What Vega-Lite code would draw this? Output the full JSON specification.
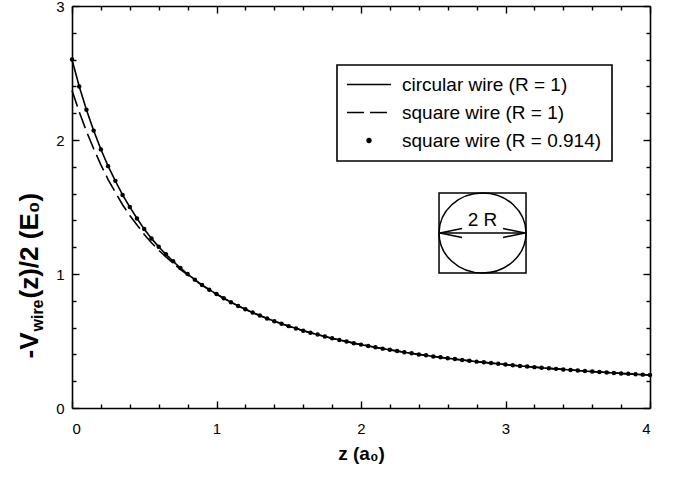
{
  "$schema": "https://vega.github.io/schema/vega-lite/v6.json",
  "width": 578,
  "height": 402,
  "autosize": {"type": "none"},
  "padding": {"left": 72, "top": 6, "right": 23, "bottom": 73},
  "background": "white",
  "config": {
    "view": {"stroke": null},
    "font": "Liberation Sans",
    "axis": {
      "grid": false,
      "domainColor": "black",
      "domainWidth": 1.6,
      "tickColor": "black",
      "tickWidth": 1.4,
      "labelColor": "black",
      "labelFont": "Liberation Sans",
      "labelFontSize": 15,
      "titleColor": "black",
      "titleFont": "Liberation Sans"
    }
  },
  "datasets": {
    "curves": [
      {"z": 0.00, "c": 2.600, "s": 2.370, "d": 2.600},
      {"z": 0.05, "c": 2.400, "s": 2.210, "d": 2.400},
      {"z": 0.10, "c": 2.225, "s": 2.065, "d": 2.225},
      {"z": 0.15, "c": 2.070, "s": 1.935, "d": 2.070},
      {"z": 0.20, "c": 1.930, "s": 1.815, "d": 1.930},
      {"z": 0.25, "c": 1.805, "s": 1.705, "d": 1.805},
      {"z": 0.30, "c": 1.695, "s": 1.610, "d": 1.695},
      {"z": 0.35, "c": 1.590, "s": 1.517, "d": 1.590},
      {"z": 0.40, "c": 1.500, "s": 1.437, "d": 1.500},
      {"z": 0.45, "c": 1.415, "s": 1.365, "d": 1.415},
      {"z": 0.50, "c": 1.335, "s": 1.295, "d": 1.335},
      {"z": 0.55, "c": 1.265, "s": 1.233, "d": 1.265},
      {"z": 0.60, "c": 1.203, "s": 1.178, "d": 1.203},
      {"z": 0.65, "c": 1.147, "s": 1.128, "d": 1.147},
      {"z": 0.70, "c": 1.095, "s": 1.081, "d": 1.095},
      {"z": 0.75, "c": 1.045, "s": 1.035, "d": 1.045},
      {"z": 0.80, "c": 1.000, "s": 0.993, "d": 1.000},
      {"z": 0.85, "c": 0.958, "s": 0.954, "d": 0.958},
      {"z": 0.90, "c": 0.918, "s": 0.916, "d": 0.918},
      {"z": 0.95, "c": 0.883, "s": 0.882, "d": 0.883},
      {"z": 1.00, "c": 0.850, "s": 0.850, "d": 0.850},
      {"z": 1.05, "c": 0.819, "s": 0.819, "d": 0.819},
      {"z": 1.10, "c": 0.790, "s": 0.790, "d": 0.790},
      {"z": 1.15, "c": 0.762, "s": 0.762, "d": 0.762},
      {"z": 1.20, "c": 0.737, "s": 0.737, "d": 0.737},
      {"z": 1.25, "c": 0.712, "s": 0.712, "d": 0.712},
      {"z": 1.30, "c": 0.690, "s": 0.690, "d": 0.690},
      {"z": 1.35, "c": 0.668, "s": 0.668, "d": 0.668},
      {"z": 1.40, "c": 0.648, "s": 0.648, "d": 0.648},
      {"z": 1.45, "c": 0.629, "s": 0.629, "d": 0.629},
      {"z": 1.50, "c": 0.611, "s": 0.611, "d": 0.611},
      {"z": 1.55, "c": 0.594, "s": 0.594, "d": 0.594},
      {"z": 1.60, "c": 0.577, "s": 0.577, "d": 0.577},
      {"z": 1.65, "c": 0.562, "s": 0.562, "d": 0.562},
      {"z": 1.70, "c": 0.548, "s": 0.548, "d": 0.548},
      {"z": 1.75, "c": 0.534, "s": 0.534, "d": 0.534},
      {"z": 1.80, "c": 0.520, "s": 0.520, "d": 0.520},
      {"z": 1.85, "c": 0.508, "s": 0.508, "d": 0.508},
      {"z": 1.90, "c": 0.496, "s": 0.496, "d": 0.496},
      {"z": 1.95, "c": 0.484, "s": 0.484, "d": 0.484},
      {"z": 2.00, "c": 0.473, "s": 0.473, "d": 0.473},
      {"z": 2.05, "c": 0.463, "s": 0.463, "d": 0.463},
      {"z": 2.10, "c": 0.453, "s": 0.453, "d": 0.453},
      {"z": 2.15, "c": 0.443, "s": 0.443, "d": 0.443},
      {"z": 2.20, "c": 0.434, "s": 0.434, "d": 0.434},
      {"z": 2.25, "c": 0.425, "s": 0.425, "d": 0.425},
      {"z": 2.30, "c": 0.416, "s": 0.416, "d": 0.416},
      {"z": 2.35, "c": 0.408, "s": 0.408, "d": 0.408},
      {"z": 2.40, "c": 0.400, "s": 0.400, "d": 0.400},
      {"z": 2.45, "c": 0.393, "s": 0.393, "d": 0.393},
      {"z": 2.50, "c": 0.385, "s": 0.385, "d": 0.385},
      {"z": 2.55, "c": 0.378, "s": 0.378, "d": 0.378},
      {"z": 2.60, "c": 0.371, "s": 0.371, "d": 0.371},
      {"z": 2.65, "c": 0.365, "s": 0.365, "d": 0.365},
      {"z": 2.70, "c": 0.358, "s": 0.358, "d": 0.358},
      {"z": 2.75, "c": 0.352, "s": 0.352, "d": 0.352},
      {"z": 2.80, "c": 0.346, "s": 0.346, "d": 0.346},
      {"z": 2.85, "c": 0.341, "s": 0.341, "d": 0.341},
      {"z": 2.90, "c": 0.335, "s": 0.335, "d": 0.335},
      {"z": 2.95, "c": 0.330, "s": 0.330, "d": 0.330},
      {"z": 3.00, "c": 0.324, "s": 0.324, "d": 0.324},
      {"z": 3.05, "c": 0.319, "s": 0.319, "d": 0.319},
      {"z": 3.10, "c": 0.314, "s": 0.314, "d": 0.314},
      {"z": 3.15, "c": 0.310, "s": 0.310, "d": 0.310},
      {"z": 3.20, "c": 0.305, "s": 0.305, "d": 0.305},
      {"z": 3.25, "c": 0.300, "s": 0.300, "d": 0.300},
      {"z": 3.30, "c": 0.296, "s": 0.296, "d": 0.296},
      {"z": 3.35, "c": 0.292, "s": 0.292, "d": 0.292},
      {"z": 3.40, "c": 0.288, "s": 0.288, "d": 0.288},
      {"z": 3.45, "c": 0.284, "s": 0.284, "d": 0.284},
      {"z": 3.50, "c": 0.280, "s": 0.280, "d": 0.280},
      {"z": 3.55, "c": 0.276, "s": 0.276, "d": 0.276},
      {"z": 3.60, "c": 0.272, "s": 0.272, "d": 0.272},
      {"z": 3.65, "c": 0.269, "s": 0.269, "d": 0.269},
      {"z": 3.70, "c": 0.265, "s": 0.265, "d": 0.265},
      {"z": 3.75, "c": 0.262, "s": 0.262, "d": 0.262},
      {"z": 3.80, "c": 0.258, "s": 0.258, "d": 0.258},
      {"z": 3.85, "c": 0.255, "s": 0.255, "d": 0.255},
      {"z": 3.90, "c": 0.252, "s": 0.252, "d": 0.252},
      {"z": 3.95, "c": 0.249, "s": 0.249, "d": 0.249},
      {"z": 4.00, "c": 0.246, "s": 0.246, "d": 0.246}
    ],
    "inset": [{"z": 2.841, "v": 1.306}],
    "arrow": [{"z": 2.547, "z2": 3.135, "v": 1.306}],
    "heads": [{"z": 2.623, "v": 1.306, "dir": "left"}, {"z": 3.059, "v": 1.306, "dir": "right"}],
    "label": [{"z": 2.841, "v": 1.40, "text": "2 R"}]
  },
  "layer": [
    {
      "data": {"name": "curves"},
      "mark": {"type": "line", "stroke": "black", "strokeWidth": 1.6},
      "encoding": {
        "x": {
          "field": "z", "type": "quantitative",
          "scale": {"domain": [0, 4], "nice": false, "zero": false},
          "axis": {
            "orient": "bottom", "values": [0, 1, 2, 3, 4], "format": "d",
            "tickSize": -7, "labelPadding": 20,
            "title": "z (a₀)", "titleFontSize": 19, "titleFontWeight": "bold",
            "titleBaseline": "alphabetic", "titleAlign": "center", "titleX": 289, "titleY": 51
          }
        },
        "y": {
          "field": "c", "type": "quantitative",
          "scale": {"domain": [0, 3], "nice": false, "zero": false},
          "axis": {
            "orient": "left", "values": [0, 1, 2, 3], "format": "d",
            "tickSize": -7, "labelPadding": 15, "labelBaseline": "middle",
            "title": "-V", "titleFontSize": 26, "titleFontWeight": "bold",
            "titleAngle": -90, "titleAlign": "left", "titleBaseline": "alphabetic",
            "titleX": -35, "titleY": 352
          }
        },
        "strokeDash": {
          "datum": "circular wire (R = 1)", "type": "nominal",
          "scale": {
            "domain": ["circular wire (R = 1)", "square wire (R = 1)", "square wire (R = 0.914)"],
            "range": [[1, 0], [17, 6], [1, 0]]
          },
          "legend": {
            "title": null,
            "orient": "none", "legendX": 265, "legendY": 59,
            "symbolType": "stroke", "symbolSize": 1936, "symbolStrokeWidth": 1.6,
            "symbolStrokeColor": "black",
            "labelFont": "Liberation Sans", "labelFontSize": 19, "labelColor": "black",
            "labelLimit": 400,
            "labelOffset": 11, "padding": 10, "rowPadding": 8,
            "strokeColor": "black", "fillColor": "white",
            "encode": {
              "legend": {"update": {"strokeWidth": {"value": 1.6}}},
              "symbols": {
                "update": {
                  "x": {"value": 22},
                  "shape": {"signal": "datum.index === 2 ? 'circle' : 'stroke'"},
                  "size": {"signal": "datum.index === 2 ? 28 : 1936"},
                  "stroke": {"value": "black"},
                  "strokeDash": {"signal": "datum.index === 1 ? [17, 6] : [1, 0]"},
                  "fill": {"signal": "datum.index === 2 ? 'black' : 'transparent'"},
                  "strokeWidth": {"signal": "datum.index === 2 ? 0 : 1.6"},
                  "opacity": {"value": 1}
                }
              },
              "labels": {"update": {"x": {"value": 55}}}
            }
          }
        }
      }
    },
    {
      "data": {"name": "curves"},
      "mark": {"type": "line", "stroke": "black", "strokeWidth": 1.6},
      "encoding": {
        "x": {
          "field": "z", "type": "quantitative",
          "scale": {"domain": [0, 4], "nice": false, "zero": false},
          "axis": {
            "orient": "bottom",
            "values": [0.2, 0.4, 0.6, 0.8, 1.2, 1.4, 1.6, 1.8, 2.2, 2.4, 2.6, 2.8, 3.2, 3.4, 3.6, 3.8],
            "tickSize": -4, "labels": false, "domain": false, "title": null
          }
        },
        "y": {
          "field": "s", "type": "quantitative",
          "scale": {"domain": [0, 3], "nice": false, "zero": false},
          "axis": {
            "orient": "left",
            "values": [0.2, 0.4, 0.6, 0.8, 1.2, 1.4, 1.6, 1.8, 2.2, 2.4, 2.6, 2.8],
            "tickSize": -4, "labels": false, "domain": false,
            "title": "wire", "titleFontSize": 16, "titleFontWeight": "bold",
            "titleAngle": -90, "titleAlign": "left", "titleBaseline": "alphabetic",
            "titleX": -30, "titleY": 325
          }
        },
        "strokeDash": {"datum": "square wire (R = 1)", "type": "nominal"}
      }
    },
    {
      "data": {"name": "curves"},
      "mark": {"type": "point", "filled": true, "color": "black", "size": 20, "opacity": 1},
      "encoding": {
        "x": {
          "field": "z", "type": "quantitative",
          "scale": {"domain": [0, 4], "nice": false, "zero": false},
          "axis": {
            "orient": "top", "values": [0, 1, 2, 3, 4],
            "tickSize": -7, "labels": false, "title": null
          }
        },
        "y": {
          "field": "d", "type": "quantitative",
          "scale": {"domain": [0, 3], "nice": false, "zero": false},
          "axis": {
            "orient": "right", "values": [0, 1, 2, 3],
            "tickSize": -7, "labels": false,
            "title": "(z)/2 (E₀)", "titleFontSize": 26, "titleFontWeight": "bold",
            "titleAngle": -90, "titleAlign": "left", "titleBaseline": "alphabetic",
            "titleX": -613, "titleY": 292
          }
        }
      }
    },
    {
      "data": {"name": "inset"},
      "mark": {"type": "point", "shape": "M-1,-0.92L1,-0.92L1,0.92L-1,0.92Z", "size": 7569, "filled": false, "stroke": "black", "strokeWidth": 1.5, "opacity": 1},
      "encoding": {
        "x": {
          "field": "z", "type": "quantitative",
          "scale": {"domain": [0, 4], "nice": false, "zero": false},
          "axis": {
            "orient": "top",
            "values": [0.2, 0.4, 0.6, 0.8, 1.2, 1.4, 1.6, 1.8, 2.2, 2.4, 2.6, 2.8, 3.2, 3.4, 3.6, 3.8],
            "tickSize": -4, "labels": false, "domain": false, "title": null
          }
        },
        "y": {
          "field": "v", "type": "quantitative",
          "scale": {"domain": [0, 3], "nice": false, "zero": false},
          "axis": {
            "orient": "right",
            "values": [0.2, 0.4, 0.6, 0.8, 1.2, 1.4, 1.6, 1.8, 2.2, 2.4, 2.6, 2.8],
            "tickSize": -4, "labels": false, "domain": false, "title": null
          }
        }
      }
    },
    {
      "data": {"name": "inset"},
      "mark": {"type": "point", "shape": "M-1,0A1,0.92,0,1,1,1,0A1,0.92,0,1,1,-1,0Z", "size": 7569, "filled": false, "stroke": "black", "strokeWidth": 1.5, "opacity": 1},
      "encoding": {
        "x": {"field": "z", "type": "quantitative", "scale": {"domain": [0, 4], "nice": false, "zero": false}, "axis": null},
        "y": {"field": "v", "type": "quantitative", "scale": {"domain": [0, 3], "nice": false, "zero": false}, "axis": null}
      }
    },
    {
      "data": {"name": "arrow"},
      "mark": {"type": "rule", "stroke": "black", "strokeWidth": 1.5},
      "encoding": {
        "x": {"field": "z", "type": "quantitative", "scale": {"domain": [0, 4], "nice": false, "zero": false}, "axis": null},
        "x2": {"field": "z2"},
        "y": {"field": "v", "type": "quantitative", "scale": {"domain": [0, 3], "nice": false, "zero": false}, "axis": null}
      }
    },
    {
      "data": {"name": "heads"},
      "mark": {"type": "point", "size": 484, "filled": false, "stroke": "black", "strokeWidth": 1.5, "opacity": 1},
      "encoding": {
        "x": {"field": "z", "type": "quantitative", "scale": {"domain": [0, 4], "nice": false, "zero": false}, "axis": null},
        "y": {"field": "v", "type": "quantitative", "scale": {"domain": [0, 3], "nice": false, "zero": false}, "axis": null},
        "shape": {
          "field": "dir", "type": "nominal",
          "scale": {"domain": ["left", "right"], "range": ["M1,-0.4L-1,0L1,0.4", "M-1,-0.4L1,0L-1,0.4"]},
          "legend": null
        }
      }
    },
    {
      "data": {"name": "label"},
      "mark": {"type": "text", "font": "Liberation Sans", "fontSize": 19, "color": "black", "baseline": "middle", "align": "center"},
      "encoding": {
        "x": {"field": "z", "type": "quantitative", "scale": {"domain": [0, 4], "nice": false, "zero": false}, "axis": null},
        "y": {"field": "v", "type": "quantitative", "scale": {"domain": [0, 3], "nice": false, "zero": false}, "axis": null},
        "text": {"field": "text"}
      }
    }
  ],
  "resolve": {"axis": {"x": "independent", "y": "independent"}}
}
